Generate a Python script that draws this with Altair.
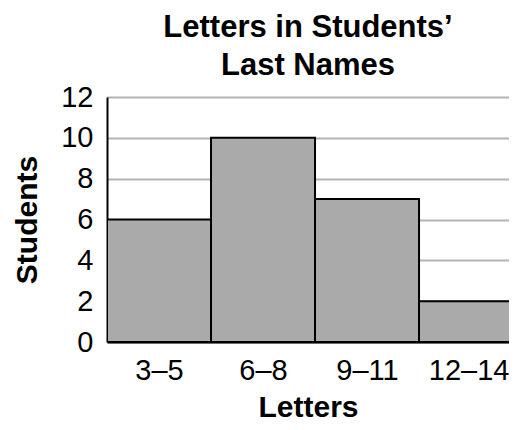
import altair as alt
import pandas as pd

categories = ["3–5", "6–8", "9–11", "12–14"]
students = [6, 10, 7, 2]

df = pd.DataFrame({
    "cat": categories,
    "start": [i for i in range(len(categories))],
    "end": [i + 1 for i in range(len(categories))],
    "students": students,
})

FONT = "Liberation Sans"
XMAX = 3.865
label_expr = "['3–5','6–8','9–11','12–14'][min(3, floor(datum.value))]"

chart = alt.Chart(df).mark_rect(
    fill="#aaaaaa", stroke="black", strokeWidth=2, clip=True
).encode(
    x=alt.X("start:Q", scale=alt.Scale(domain=[0, XMAX], nice=False, zero=False),
            axis=alt.Axis(title="Letters", values=[0.5, 1.5, 2.5, XMAX], labelExpr=label_expr,
                          labelAlign=alt.condition("datum.value > 3.6", alt.value("right"), alt.value("center")),
                          grid=False, ticks=False, domain=True, domainColor="black", domainWidth=2,
                          labelFont=FONT, labelFontSize=29, labelColor="black", labelPadding=14,
                          labelFlush=False, labelOverlap=False,
                          titleFont=FONT, titleFontSize=30, titleFontWeight="bold", titleColor="black",
                          titlePadding=7)),
    x2="end:Q",
    y=alt.Y("students:Q", scale=alt.Scale(domain=[0, 12], nice=False),
            axis=alt.Axis(title="Students", values=[0, 2, 4, 6, 8, 10, 12], grid=True,
                          gridColor="#b3b3b3", gridWidth=2, ticks=False, domain=True,
                          domainColor="black", domainWidth=2,
                          labelFont=FONT, labelFontSize=29, labelColor="black", labelPadding=14,
                          titleFont=FONT, titleFontSize=30, titleFontWeight="bold", titleColor="black",
                          titlePadding=18)),
    y2=alt.datum(0),
).properties(
    width=402,
    height=245,
    title=alt.TitleParams(
        text=["Letters in Students’", "Last Names"],
        font=FONT, fontSize=31, fontWeight="bold", color="black",
        anchor="middle", lineHeight=38, offset=1,
    ),
    autosize=alt.AutoSizeParams(type="none"),
    padding={"left": 99, "top": 89, "right": 0, "bottom": 80},
).configure_view(stroke=None).configure(background="white")

chart.save("out.html", embed_options={"renderer": "svg", "actions": False})
